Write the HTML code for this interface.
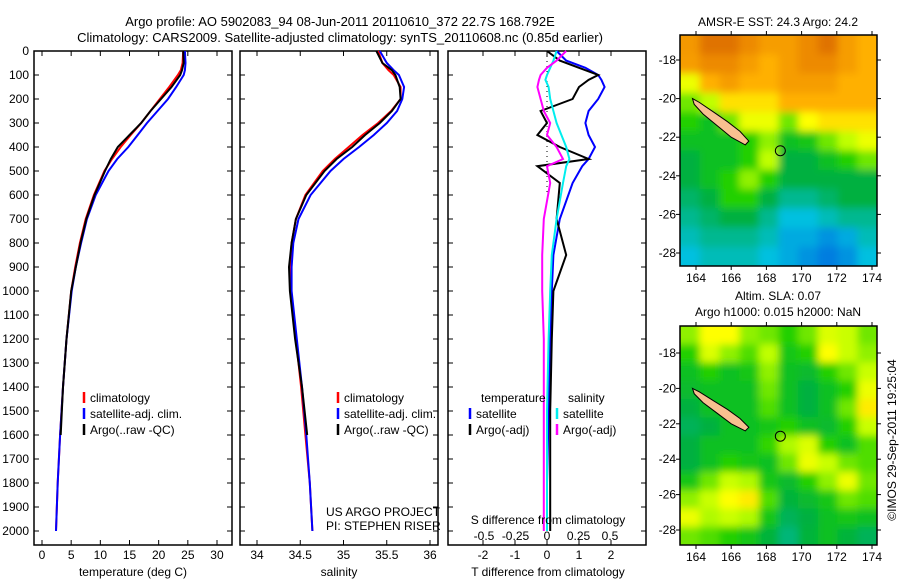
<!DOCTYPE html>
<html><head><meta charset="utf-8"><style>
body{margin:0;background:#fff;}
svg{font-family:"Liberation Sans",sans-serif;font-size:12px;}
</style></head><body>
<svg id="c" width="900" height="580" xmlns="http://www.w3.org/2000/svg">
<defs>
<filter id="blur" x="-5%" y="-5%" width="110%" height="110%"><feGaussianBlur stdDeviation="4"/></filter>
<clipPath id="clip1"><rect x="680" y="35" width="197" height="231"/></clipPath>
<clipPath id="clip2"><rect x="680" y="326" width="197" height="219"/></clipPath>
</defs>
<text x="340" y="26" text-anchor="middle" font-size="13">Argo profile: AO 5902083_94 08-Jun-2011 20110610_372 22.7S 168.792E</text>
<text x="340" y="42" text-anchor="middle" font-size="13">Climatology: CARS2009. Satellite-adjusted climatology: synTS_20110608.nc (0.85d earlier)</text>
<text x="778" y="26" text-anchor="middle">AMSR-E SST: 24.3 Argo: 24.2</text>
<text x="778" y="300" text-anchor="middle">Altim. SLA: 0.07</text>
<text x="778" y="316" text-anchor="middle">Argo h1000: 0.015 h2000: NaN</text>
<text transform="translate(896,440) rotate(-90)" text-anchor="middle">©IMOS 29-Sep-2011 19:25:04</text>
<g id="g"></g>
</svg>
<script>
// ---- data ----
const depthTicks=[0,100,200,300,400,500,600,700,800,900,1000,1100,1200,1300,1400,1500,1600,1700,1800,1900,2000];
const tempTicks=[0,5,10,15,20,25,30];
const salTicks=[34,34.5,35,35.5,36];
const tdiffTicks=[-2,-1,0,1,2];
const tdiffLabels=["-2","-1","0","1","2"];
const sdiffTicks=[-0.5,-0.25,0,0.25,0.5];
const sdiffLabels=["-0.5","-0.25","0","0.25","0.5"];
const profDepth=[0,50,80,100,150,200,250,300,350,400,450,500,600,700,800,900,1000,1200,1400,1600,1800,2000];
const tempClim=[24.2,24.1,23.8,23.3,21.8,20.2,18.6,17.0,15.2,13.5,12.0,10.7,8.9,7.5,6.5,5.7,5.0,4.2,3.6,3.1,2.7,2.4];
const tempSat=[24.5,24.6,24.5,24.3,23.0,21.6,19.8,18.0,16.4,14.8,12.9,11.4,9.2,7.7,6.7,5.8,5.1,4.2,3.6,3.1,2.7,2.4];
const tempArgo=[24.2,24.3,24.0,23.7,22.2,20.4,18.6,17.0,15.0,13.0,11.8,10.8,9.0,7.6,6.6,5.8,5.0,4.2,3.6,3.2,null,null];
const salClim=[35.40,35.45,35.52,35.58,35.66,35.66,35.55,35.40,35.22,35.06,34.90,34.76,34.56,34.45,34.40,34.38,34.39,34.45,34.51,34.56,34.61,34.64];
const salSat=[35.42,35.50,35.58,35.64,35.70,35.68,35.62,35.50,35.35,35.18,35.00,34.85,34.62,34.48,34.42,34.40,34.40,34.46,34.52,34.57,34.61,34.64];
const salArgo=[35.38,35.45,35.56,35.60,35.65,35.66,35.56,35.42,35.25,35.10,34.92,34.78,34.57,34.45,34.40,34.37,34.38,34.44,34.52,34.58,null,null];
const diffDepth=[0,40,70,100,120,150,200,250,300,350,400,450,480,550,700,850,1000,1200,1500,1800,2000];
const dTsat=[0.3,0.6,1.2,1.6,1.7,1.8,1.6,1.3,1.2,1.3,1.5,1.3,1.1,0.8,0.4,0.2,0.15,0.1,0.05,0.0,0.0];
const dTargo=[0.0,0.4,1.0,1.6,1.3,1.0,0.8,-0.2,0.0,-0.3,0.4,1.3,-0.3,0.4,0.3,0.6,0.2,0.15,0.1,0.1,0.1];
const dSsat=[0.3,0.2,0.1,0.0,-0.05,0.05,0.1,0.2,0.3,0.45,0.6,0.7,0.6,0.5,0.3,0.15,0.1,0.05,0.0,0.0,0.0];
const dSargo=[0.6,0.3,0.0,-0.2,-0.25,-0.3,-0.2,-0.1,0.1,0.0,0.3,0.5,0.0,0.1,-0.1,-0.15,-0.15,-0.1,-0.1,-0.1,-0.1];
const lonTicks=[164,166,168,170,172,174];
const latTicks=[-18,-20,-22,-24,-26,-28];
const sstGrid=[
[.85,.92,.92,.88,.84,.84,.88,.92,.84,.8],
[.84,.88,.88,.84,.8,.84,.88,.88,.84,.8],
[.7,.8,.84,.8,.8,.84,.84,.84,.8,.8],
[.6,.65,.75,.75,.75,.8,.8,.8,.8,.8],
[.55,.5,.6,.7,.7,.6,.72,.75,.75,.75],
[.5,.5,.5,.55,.62,.5,.52,.6,.65,.7],
[.45,.5,.5,.55,.65,.45,.45,.5,.55,.6],
[.45,.5,.55,.62,.55,.45,.45,.45,.45,.45],
[.4,.45,.55,.55,.45,.35,.35,.4,.45,.45],
[.35,.4,.45,.45,.35,.25,.25,.3,.35,.35],
[.3,.35,.35,.35,.3,.2,.2,.15,.2,.3],
[.25,.3,.3,.3,.25,.2,.15,.1,.15,.25]];
const slaGrid=[
[.62,.72,.72,.62,.6,.55,.6,.68,.66,.6],
[.55,.68,.62,.58,.65,.52,.55,.72,.66,.62],
[.5,.55,.5,.52,.62,.5,.48,.55,.6,.66],
[.48,.5,.5,.5,.6,.5,.45,.5,.55,.7],
[.45,.5,.5,.5,.58,.5,.45,.5,.6,.74],
[.42,.45,.5,.5,.52,.55,.5,.48,.55,.66],
[.45,.5,.5,.5,.56,.64,.68,.55,.5,.58],
[.45,.5,.55,.52,.5,.6,.7,.66,.6,.58],
[.52,.6,.66,.64,.52,.48,.55,.62,.7,.6],
[.62,.66,.72,.74,.58,.46,.48,.52,.6,.58],
[.7,.64,.66,.64,.52,.42,.45,.5,.52,.5],
[.6,.58,.55,.52,.46,.38,.46,.5,.46,.42]];
const argoLon=168.792, argoLat=-22.7;
const islandLon=[163.8,164.2,165.0,165.8,166.5,167.0,166.8,166.0,165.2,164.4,163.9];
const islandLat=[-20.0,-20.2,-20.7,-21.2,-21.7,-22.2,-22.4,-22.0,-21.4,-20.8,-20.3];

// ---- drawing ----
const NS="http://www.w3.org/2000/svg";
const G=document.getElementById('g');
let e;
function mk(t,a,p){const el=document.createElementNS(NS,t);for(const k in a)el.setAttribute(k,a[k]);(p||G).appendChild(el);return el;}
function txt(x,y,s,a){const el=mk('text',Object.assign({x:x,y:y},a||{}));el.textContent=s;return el;}
const yD=d=>51+d*0.24;

function panel(x0,x1,name){
  const r=mk('rect',{x:x0,y:yD(0),width:x1-x0,height:545-yD(0),fill:'none',stroke:'#000','stroke-width':1.5});
  
  
  depthTicks.forEach(d=>{mk('line',{x1:x0,x2:x0+5,y1:yD(d),y2:yD(d),stroke:'#000'});mk('line',{x1:x1,x2:x1-5,y1:yD(d),y2:yD(d),stroke:'#000'});});
}
function line(xs,ds,xf,col,name,w){
  let p='',st=false;
  ds.forEach((d,i)=>{const v=xs[i];if(v===null||v===undefined)return;p+=(st?'L':'M')+xf(v).toFixed(1)+','+yD(d).toFixed(1);st=true;});
  const el=mk('path',{d:p,fill:'none',stroke:col,'stroke-width':w||2});
  
  
}
function xticks(ticks,labels,xf,y){
  ticks.forEach((t,i)=>{const x=xf(t);mk('line',{x1:x,x2:x,y1:545,y2:540,stroke:'#000'});mk('line',{x1:x,x2:x,y1:yD(0),y2:yD(0)+5,stroke:'#000'});
    const el=txt(x,y,labels[i],{'text-anchor':'middle'});
    
    });
}
function legend(x,y,items){
  items.forEach((it,i)=>{mk('line',{x1:x,x2:x,y1:y+i*16-10,y2:y+i*16+1,stroke:it[1],'stroke-width':2.5});
    const el=txt(x+6,y+i*16,it[0]);
    
    });
}
depthTicks.forEach(d=>{const el=txt(29,yD(d)+4,String(d),{'text-anchor':'end'});
  
  });

// panel 1
const xT=v=>42+v*5.833;
panel(34,232,'temperature-panel');
xticks(tempTicks,tempTicks.map(String),xT,559);
line(tempClim,profDepth,xT,'#f00','temp-climatology-line');
line(tempSat,profDepth,xT,'#00f','temp-satellite-line');
line(tempArgo,profDepth,xT,'#000','temp-argo-line');
e=txt(133,576,'temperature (deg C)',{'text-anchor':'middle'});


legend(84,402,[['climatology','#f00'],['satellite-adj. clim.','#00f'],['Argo(..raw -QC)','#000']]);

// panel 2
const xS=v=>257+(v-34)*86.5;
panel(240,438,'salinity-panel');
xticks(salTicks,["34","34.5","35","35.5","36"],xS,559);
line(salClim,profDepth,xS,'#f00','sal-climatology-line');
line(salSat,profDepth,xS,'#00f','sal-satellite-line');
line(salArgo,profDepth,xS,'#000','sal-argo-line');
e=txt(339,576,'salinity',{'text-anchor':'middle'});


legend(338,402,[['climatology','#f00'],['satellite-adj. clim.','#00f'],['Argo(..raw -QC)','#000']]);
e=txt(326,516,'US ARGO PROJECT');


e=txt(326,530,'PI: STEPHEN RISER');



// panel 3
const xD=v=>547+v*32;
panel(448,646,'difference-panel');
xticks(tdiffTicks,tdiffLabels,xD,559);
const xSD=v=>547+v*126;
sdiffTicks.forEach((t,i)=>{const el=txt(xSD(t),540,sdiffLabels[i],{'text-anchor':'middle'});
  
  });
mk('line',{x1:xD(0),x2:xD(0),y1:yD(0),y2:yD(600),stroke:'#000','stroke-dasharray':'1,4'});
line(dTsat,diffDepth,xD,'#00f','tdiff-satellite-line');
line(dTargo,diffDepth,xD,'#000','tdiff-argo-line');
line(dSsat,diffDepth,xD,'#0ee','sdiff-satellite-line');
line(dSargo,diffDepth,xD,'#f0f','sdiff-argo-line');
e=txt(548,524,'S difference from climatology',{'text-anchor':'middle'});


e=txt(548,576,'T difference from climatology',{'text-anchor':'middle'});


e=txt(481,402,'temperature');


e=txt(568,402,'salinity');


legend(470,418,[['satellite','#00f'],['Argo(-adj)','#000']]);
legend(557,418,[['satellite','#0ee'],['Argo(-adj)','#f0f']]);

// maps
const stops=[[0,[0,80,224]],[.25,[0,192,224]],[.45,[0,176,64]],[.55,[32,208,0]],[.65,[192,255,0]],[.72,[255,255,0]],[.8,[255,176,0]],[.9,[232,128,0]],[1,[192,64,0]]];
function cmap(v){for(let i=1;i<stops.length;i++){if(v<=stops[i][0]){const a=stops[i-1],b=stops[i],t=(v-a[0])/(b[0]-a[0]);return 'rgb('+a[1].map((c,k)=>Math.round(c+(b[1][k]-c)*t)).join(',')+')';}}return 'rgb(192,64,0)';}
function map(grid,fx0,fx1,fy0,fy1,lat18,lat28,name,clip){
  const lx=v=>696+(v-164)*17.6, ly=v=>lat18+(-18-v)*(lat28-lat18)/10;
  const g=mk('g',{});
  
  
  const cg=mk('g',{'clip-path':'url(#'+clip+')'},g);
  const bg=mk('g',{filter:'url(#blur)'},cg);
  const R=grid.length,C=grid[0].length,cw=(fx1-fx0)/C,ch=(fy1-fy0)/R;
  grid.forEach((row,r)=>row.forEach((v,c)=>{
    const x=fx0+c*cw-(c===0?10:0), y=fy0+r*ch-(r===0?10:0);
    const w=cw+0.6+(c===0?10:0)+(c===C-1?10:0), h=ch+0.6+(r===0?10:0)+(r===R-1?10:0);
    mk('rect',{x:x,y:y,width:w,height:h,fill:cmap(v)},bg);}));
  let p='';islandLon.forEach((lo,i)=>{p+=(i?'L':'M')+lx(lo).toFixed(1)+','+ly(islandLat[i]).toFixed(1);});
  const isl=mk('path',{d:p+'Z',fill:'#f8c090',stroke:'#000','stroke-width':1},g);
  
  
  const cm=mk('circle',{cx:lx(argoLon),cy:ly(argoLat),r:5,fill:'none',stroke:'#000'},g);
  
  
  mk('rect',{x:fx0,y:fy0,width:fx1-fx0,height:fy1-fy0,fill:'none',stroke:'#000','stroke-width':1.5},g);
  lonTicks.forEach(t=>{const x=lx(t);mk('line',{x1:x,x2:x,y1:fy1,y2:fy1+4,stroke:'#000'},g);mk('line',{x1:x,x2:x,y1:fy0,y2:fy0-4,stroke:'#000'},g);
    const q=txt(x,fy1+16,String(t),{'text-anchor':'middle'});
    
    });
  latTicks.forEach(t=>{const y=ly(t);mk('line',{x1:fx0,x2:fx0-4,y1:y,y2:y,stroke:'#000'},g);mk('line',{x1:fx1,x2:fx1+4,y1:y,y2:y,stroke:'#000'},g);
    const q=txt(fx0-4,y+4,String(t),{'text-anchor':'end'});
    
    });
}
map(sstGrid,680,877,35,266,60,253,'sst-map','clip1');
map(slaGrid,680,877,326,545,353,530,'sla-map','clip2');
</script>
</body></html>
